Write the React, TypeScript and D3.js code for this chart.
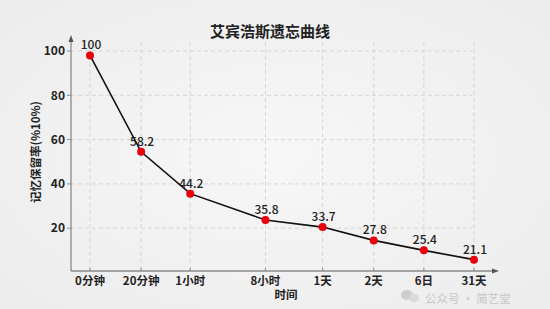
import React from "react";
import * as d3 from "d3";

const categories = ["0分钟", "20分钟", "1小时", "8小时", "1天", "2天", "6日", "31天"];
const xSlots = [0, 1.02, 2, 3.5, 4.64, 5.66, 6.66, 7.66];
const plotted = [98, 54.5, 35.6, 23.7, 20.5, 14.5, 10, 5.8];
const labels = ["100", "58.2", "44.2", "35.8", "33.7", "27.8", "25.4", "21.1"];
const yTicks = [20, 40, 60, 80, 100];

const W = 550;
const H = 309;
const FONT = "'Noto Sans CJK SC', 'Noto Sans', sans-serif";

export default function App() {
  const x = d3.scaleLinear().domain([0, 7.66]).range([90, 474]);
  const y = d3.scaleLinear().domain([0, 100]).range([272.5, 51]);
  const axisX0 = 71;
  const axisY0 = 271;
  const pts: [number, number][] = plotted.map((v, i) => [x(xSlots[i]), y(v)]);
  const line = d3.line().curve(d3.curveLinear)(pts) || "";

  return (
    <svg
      width={W}
      height={H}
      style={{ position: "absolute", left: 0, top: 0, display: "block" }}
      fontFamily={FONT}
    >
      <defs>
        <radialGradient id="bg" cx="50%" cy="50%" r="70%">
          <stop offset="0%" stopColor="#f7f7f7" />
          <stop offset="100%" stopColor="#ececec" />
        </radialGradient>
      </defs>
      <rect x={0} y={0} width={W} height={H} fill="url(#bg)" />

      <text x={270} y={37} textAnchor="middle" fontSize={15} fontWeight={700} fill="#222">
        艾宾浩斯遗忘曲线
      </text>

      {/* grid */}
      {yTicks.map((t) => (
        <line key={"h" + t} x1={axisX0} x2={472} y1={y(t)} y2={y(t)} stroke="#d6d6d6" strokeWidth={1} strokeDasharray="4,3" />
      ))}
      {xSlots.map((s, i) => (
        <line key={"v" + i} x1={x(s)} x2={x(s)} y1={42} y2={axisY0} stroke="#d6d6d6" strokeWidth={1} strokeDasharray="4,3" />
      ))}

      {/* axes */}
      <line x1={axisX0} x2={axisX0} y1={axisY0} y2={40} stroke="#8a8a8a" strokeWidth={1.3} />
      <path d={`M${axisX0 - 2.5},${42} L${axisX0},${35} L${axisX0 + 2.5},${42} Z`} fill="#555" />
      <line x1={axisX0} x2={494} y1={axisY0} y2={axisY0} stroke="#8a8a8a" strokeWidth={1.3} />
      <path d={`M${492},${axisY0 - 2.5} L${499},${axisY0} L${492},${axisY0 + 2.5} Z`} fill="#555" />

      {yTicks.map((t) => (
        <g key={"yt" + t}>
          <line x1={axisX0 - 4} x2={axisX0} y1={y(t)} y2={y(t)} stroke="#8a8a8a" />
          <text x={axisX0 - 6} y={y(t)} dy="0.35em" textAnchor="end" fontSize={12} fontWeight={700} fill="#222">
            {t}
          </text>
        </g>
      ))}
      {categories.map((c, i) => (
        <g key={"xt" + i}>
          <line x1={x(xSlots[i])} x2={x(xSlots[i])} y1={axisY0} y2={axisY0 - 3} stroke="#8a8a8a" />
          <text x={x(xSlots[i])} y={axisY0 + 14} textAnchor="middle" fontSize={11.5} fontWeight={700} fill="#222">
            {c}
          </text>
        </g>
      ))}

      <text x={286} y={299} textAnchor="middle" fontSize={11.5} fontWeight={700} fill="#222">
        时间
      </text>
      <text
        transform={`translate(40,152) rotate(-90)`}
        textAnchor="middle"
        fontSize={11.5}
        fontWeight={700}
        fill="#222"
      >
        记忆保留率(%10%)
      </text>

      {/* series */}
      <path d={line} fill="none" stroke="#111" strokeWidth={1.6} />
      {pts.map((p, i) => (
        <g key={"p" + i}>
          <circle cx={p[0]} cy={p[1]} r={4} fill="#e8000b" />
          <text x={p[0] + 1} y={p[1] - 6} textAnchor="middle" fontSize={12} fontWeight={500} fill="#222">
            {labels[i]}
          </text>
        </g>
      ))}

      {/* watermark */}
      <g opacity={0.75}>
        <ellipse cx={407} cy={295} rx={6} ry={5} fill="#c4c4c4" />
        <ellipse cx={414} cy={298} rx={5} ry={4} fill="#d2d2d2" />
        <text x={425} y={303} fontSize={11.5} fill="#b8b8b8">
          公众号 · 简艺堂
        </text>
      </g>
    </svg>
  );
}
